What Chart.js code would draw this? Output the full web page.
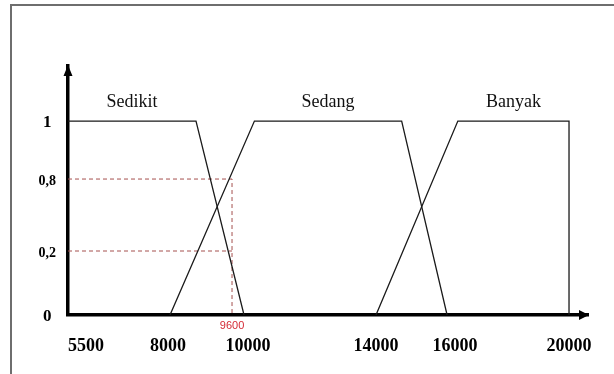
<!DOCTYPE html>
<html>
<head>
<meta charset="utf-8">
<script src="https://cdn.jsdelivr.net/npm/chart.js@4.4.1/dist/chart.umd.min.js"></script>
<style>
  body { margin: 0; background: #fff; }
  #wrap { position: relative; width: 614px; height: 374px; overflow: hidden; }
  #frame { position: absolute; left: 10px; top: 4px; width: 800px; height: 500px;
           border-top: 2px solid #6e6e6e; border-left: 2px solid #6e6e6e; }
  canvas { position: absolute; left: 0; top: 0; }
</style>
</head>
<body>
<div id="wrap"><div id="frame"></div><canvas id="chart" width="614" height="374"></canvas></div>
<script>
// fungsi keanggotaan, nilai
const xTicks = [5500, 8000, 10000, 14000, 16000, 20000];
const yTicks = [0, 0.2, 0.8, 1];
const sedikitX = [5500, 8700, 9900];
const sedikitY = [1, 1, 0];
const sedangX = [8050, 10200, 14650, 15800];
const sedangY = [0, 1, 1, 0];
const banyakX = [14000, 16100, 20000, 20000];
const banyakY = [0, 1, 1, 0];
const inputX = 9600;
const inputDegrees = [0.8, 0.2];

// the drawing is not to scale, so each axis is piecewise linear
// [value, fraction of axis length]
const knots = {
  x: [[5500, 0], [8000, 0.1923], [10000, 0.3462], [14000, 0.5923], [16000, 0.7442], [20000, 0.9635], [20700, 1]],
  y: [[0, 0], [0.2, 0.257], [0.8, 0.546], [1, 0.779], [1.3, 1]]
};

class KnotScale extends Chart.LinearScale {
  static id = 'knot';
  static defaults = Chart.LinearScale.defaults;
  getPixelForValue(value) {
    if (value === null || isNaN(value)) return NaN;
    const k = knots[this.id];
    let f = k[k.length - 1][1];
    if (value <= k[0][0]) f = k[0][1];
    else {
      for (let i = 1; i < k.length; i++) {
        if (value <= k[i][0]) {
          f = k[i - 1][1] + (value - k[i - 1][0]) / (k[i][0] - k[i - 1][0]) * (k[i][1] - k[i - 1][1]);
          break;
        }
      }
    }
    return this.getPixelForDecimal(f);
  }
  getValueForPixel(pixel) {
    const k = knots[this.id];
    const f = this.getDecimalForPixel(pixel);
    for (let i = 1; i < k.length; i++) {
      if (f <= k[i][1]) {
        return k[i - 1][0] + (f - k[i - 1][1]) / (k[i][1] - k[i - 1][1]) * (k[i][0] - k[i - 1][0]);
      }
    }
    return k[k.length - 1][0];
  }
}
Chart.register(KnotScale);

const pts = (xs, ys) => xs.map((x, i) => ({ x: x, y: ys[i] }));
const solid = { borderColor: '#1a1a1a', borderWidth: 1.3, pointRadius: 0, fill: false, tension: 0 };
const dashed = { borderColor: '#a5504e', borderWidth: 1, borderDash: [4, 3], pointRadius: 0, fill: false, tension: 0 };
const serif = '"Liberation Serif", "Times New Roman", serif';

const decor = {
  id: 'decor',
  afterDraw(chart) {
    const { ctx, chartArea, scales: { x, y } } = chart;
    ctx.save();
    // nama himpunan di atas puncak
    ctx.font = '18px ' + serif;
    ctx.fillStyle = '#111';
    ctx.textAlign = 'center';
    ctx.textBaseline = 'middle';
    chart.data.datasets.forEach(ds => {
      if (!ds.label) return;
      const top = ds.data.filter(p => p.y === 1).map(p => x.getPixelForValue(p.x));
      ctx.fillText(ds.label, (Math.min(...top) + Math.max(...top)) / 2, y.getPixelForValue(1) - 19);
    });
    // nilai input
    ctx.font = '11px "Liberation Sans", Arial, sans-serif';
    ctx.fillStyle = '#d42a35';
    ctx.fillText(String(inputX), x.getPixelForValue(inputX), y.getPixelForValue(0) + 11);
    // panah sumbu
    ctx.fillStyle = '#000';
    ctx.beginPath();
    ctx.moveTo(chartArea.left, chartArea.top - 1);
    ctx.lineTo(chartArea.left - 4.5, chartArea.top + 10);
    ctx.lineTo(chartArea.left + 4.5, chartArea.top + 10);
    ctx.fill();
    ctx.beginPath();
    ctx.moveTo(chartArea.right + 1, chartArea.bottom);
    ctx.lineTo(chartArea.right - 9, chartArea.bottom - 5);
    ctx.lineTo(chartArea.right - 9, chartArea.bottom + 5);
    ctx.fill();
    ctx.restore();
  }
};

new Chart(document.getElementById('chart'), {
  type: 'line',
  data: {
    datasets: [
      { label: 'Sedikit', data: pts(sedikitX, sedikitY), ...solid },
      { label: 'Sedang', data: pts(sedangX, sedangY), ...solid },
      { label: 'Banyak', data: pts(banyakX, banyakY), ...solid },
      { label: '', data: [{ x: xTicks[0], y: inputDegrees[0] }, { x: inputX, y: inputDegrees[0] }, { x: inputX, y: 0 }], ...dashed },
      { label: '', data: [{ x: xTicks[0], y: inputDegrees[1] }, { x: inputX, y: inputDegrees[1] }], ...dashed }
    ]
  },
  options: {
    responsive: false,
    animation: false,
    devicePixelRatio: 1,
    layout: { padding: { left: 9, top: 66, right: 26, bottom: 0 } },
    plugins: { legend: { display: false }, tooltip: { enabled: false } },
    scales: {
      x: {
        type: 'knot', min: 5500, max: 20700,
        grid: { display: false, drawTicks: false },
        border: { display: true, color: '#000', width: 3.5 },
        afterBuildTicks: s => { s.ticks = xTicks.concat([s.max]).map(v => ({ value: v })); },
        afterFit: s => { s.height = 59; s.paddingLeft = 0; s.paddingRight = 0; },
        ticks: {
          autoSkip: false, maxRotation: 0, align: 'inner', padding: 21, color: '#000',
          font: { family: serif, size: 18, weight: 'bold' },
          callback: v => xTicks.includes(v) ? String(v) : ''
        }
      },
      y: {
        type: 'knot', min: 0, max: 1.3,
        grid: { display: false, drawTicks: false },
        border: { display: true, color: '#000', width: 3.5 },
        afterBuildTicks: s => { s.ticks = yTicks.map(v => ({ value: v })); },
        afterFit: s => { s.width = 59; s.paddingTop = 0; s.paddingBottom = 0; },
        ticks: {
          crossAlign: 'center', padding: 12, labelOffset: 2, color: '#000',
          font: c => ({ family: serif, weight: 'bold',
                        size: c.tick && (c.tick.value === 0 || c.tick.value === 1) ? 17 : 14 }),
          callback: v => String(v).replace('.', ',')
        }
      }
    }
  },
  plugins: [decor]
});
</script>
</body>
</html>
